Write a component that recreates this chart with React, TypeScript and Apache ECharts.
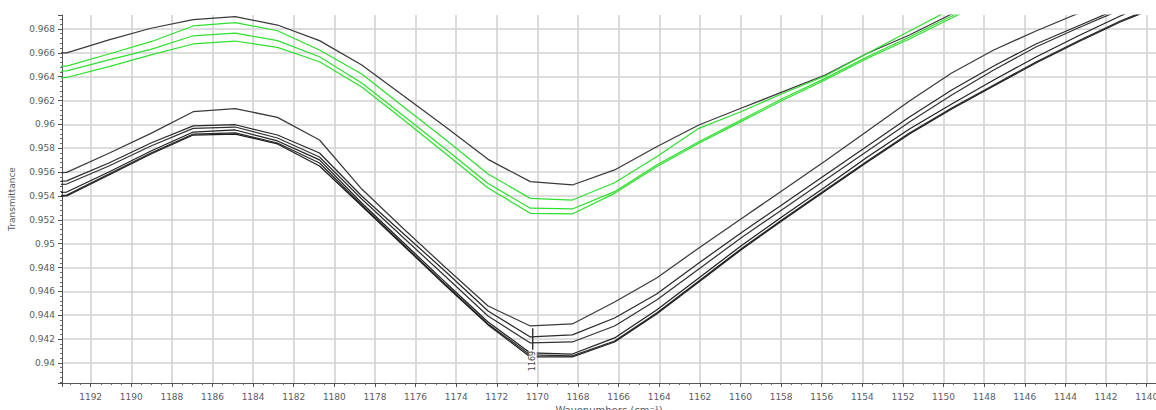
import React, { useEffect, useRef } from "react";
import * as echarts from "echarts";

// Wavenumber sample positions (cm^-1)
const wavenumbers = [
  1195.25, 1193.18, 1191.1, 1189.03, 1186.95, 1184.88, 1182.8, 1180.73, 1178.65, 1176.58,
  1174.5, 1172.43, 1170.35, 1168.28, 1166.2, 1164.13, 1162.05, 1159.98, 1157.9, 1155.83,
  1153.75, 1151.68, 1149.6, 1147.53, 1145.45, 1143.38, 1141.3, 1139.23,
];

// Upper group: one black spectrum and three green spectra
const upperBlack = [
  0.9659, 0.966, 0.96709, 0.96806, 0.96878, 0.96903, 0.96833, 0.96702, 0.96498, 0.96238,
  0.95976, 0.95707, 0.9552, 0.95492, 0.95618, 0.95813, 0.95995, 0.96135, 0.96274, 0.96414,
  0.96596, 0.96749, 0.96925, 0.9711,
];
const green1 = [
  0.96477, 0.96489, 0.9659, 0.96693, 0.96825, 0.96854, 0.96785, 0.96624, 0.96422, 0.96146,
  0.95869, 0.95584, 0.9538, 0.95366, 0.95511, 0.95729, 0.95967, 0.96106, 0.96261, 0.96406,
  0.96596, 0.96783, 0.96967, 0.97152,
];
const green2 = [
  0.96435, 0.96448, 0.9654, 0.96629, 0.96743, 0.96766, 0.96702, 0.96567, 0.96347, 0.9607,
  0.9579, 0.95505, 0.95297, 0.95291, 0.95436, 0.9566, 0.95855, 0.96037, 0.96219, 0.96386,
  0.96567, 0.96733, 0.96909, 0.97093,
];
const green3 = [
  0.9638, 0.96393, 0.96484, 0.96582, 0.96674, 0.96699, 0.96646, 0.96525, 0.96313, 0.96037,
  0.95752, 0.95467, 0.95255, 0.95249, 0.95422, 0.95645, 0.95842, 0.96023, 0.96204, 0.96372,
  0.96554, 0.96716, 0.96892, 0.97076,
];

// Lower group: six black spectra
const lower1 = [
  0.95584, 0.95598, 0.95758, 0.95925, 0.96106, 0.96132, 0.96059, 0.95869, 0.95458, 0.95123,
  0.94796, 0.94478, 0.9431, 0.94327, 0.94511, 0.94712, 0.94964, 0.95207, 0.9545, 0.95693,
  0.95945, 0.96196, 0.96431, 0.96624, 0.96783, 0.9693, 0.97068, 0.97194,
];
const lower2 = [
  0.95513, 0.95526, 0.95676, 0.95844, 0.95987, 0.95997, 0.95911, 0.9576, 0.954, 0.95081,
  0.94763, 0.94436, 0.94218, 0.94235, 0.94377, 0.94578, 0.94838, 0.9509, 0.95333, 0.95576,
  0.95819, 0.96062, 0.96288, 0.9649, 0.96674, 0.96825, 0.96976, 0.9711,
];
const lower3 = [
  0.95484, 0.955, 0.95651, 0.95819, 0.95966, 0.95978, 0.95886, 0.95727, 0.95375, 0.95048,
  0.94721, 0.94394, 0.94168, 0.94176, 0.9431, 0.94528, 0.94788, 0.95048, 0.95291, 0.95534,
  0.95777, 0.9602, 0.96246, 0.96456, 0.96649, 0.96808, 0.96959, 0.97093,
];
const lower4 = [
  0.95417, 0.95433, 0.95601, 0.95777, 0.95936, 0.95953, 0.95861, 0.95702, 0.95341, 0.95006,
  0.94671, 0.94344, 0.94084, 0.94075, 0.9421, 0.94444, 0.94712, 0.94981, 0.95232, 0.95475,
  0.95727, 0.95961, 0.96171, 0.96372, 0.96565, 0.96741, 0.96909, 0.97059,
];
const lower5 = [
  0.95391, 0.95408, 0.95584, 0.9576, 0.95919, 0.95928, 0.95844, 0.95676, 0.95324, 0.94989,
  0.94654, 0.94327, 0.94067, 0.94059, 0.94184, 0.94419, 0.94687, 0.94956, 0.95207, 0.9545,
  0.95693, 0.95928, 0.96137, 0.9633, 0.96523, 0.96699, 0.96867, 0.97009,
];
const lower6 = [
  0.95383, 0.954, 0.95576, 0.95752, 0.95911, 0.95919, 0.95836, 0.95651, 0.95316, 0.94981,
  0.94645, 0.94319, 0.9405, 0.9405, 0.94176, 0.94411, 0.94679, 0.94947, 0.95199, 0.95442,
  0.95685, 0.95919, 0.96129, 0.96322, 0.96515, 0.96691, 0.96858, 0.97001,
];

// Peak marker: [wavenumber, top of tick, bottom of tick]
const peakMarker = [[1170.23, 0.9429, 0.9411]];
const peakLabel = "1169";

const xRange = [1139.54, 1193.41];
const yRange = [0.93832, 0.96917];

const W = 1156;
const H = 410;

const pair = (vals: number[]) => vals.map((v, i) => [wavenumbers[i], v]);

const isStep = (v: number, step: number) => {
  const r = v / step;
  return Math.abs(r - Math.round(r)) < 1e-6;
};

export default function App() {
  const ref = useRef<HTMLDivElement>(null);
  useEffect(() => {
    if (!ref.current) return;
    const chart = echarts.init(ref.current, undefined, { renderer: "svg", width: W, height: H });
    const labelFont = { fontFamily: "DejaVu Sans", fontSize: 9, color: "#5a5a66" };
    const lineSeries = (name: string, vals: number[], color: string, width = 1.25) => ({
      name,
      type: "line",
      data: pair(vals),
      showSymbol: false,
      symbol: "none",
      lineStyle: { color, width },
      z: 3,
    });
    chart.setOption({
      animation: false,
      backgroundColor: "#ffffff",
      grid: {
        left: 62,
        right: 0,
        top: 15,
        bottom: 27,
        containLabel: false,
        outerBoundsMode: "none",
      },
      xAxis: {
        type: "value",
        inverse: true,
        min: xRange[0],
        max: xRange[1],
        splitNumber: 27,
        name: "Wavenumbers (cm⁻¹)",
        nameLocation: "middle",
        nameGap: 22,
        nameTextStyle: { ...labelFont, fontSize: 10 },
        axisLine: { show: true, onZero: false, lineStyle: { color: "#555", width: 1 } },
        axisTick: { show: true, length: 4, lineStyle: { color: "#555" } },
        minorTick: { show: true, splitNumber: 4, length: 2, lineStyle: { color: "#666" } },
        axisLabel: {
          ...labelFont,
          margin: 9,
          formatter: (v: number) => (isStep(v, 2) ? String(Math.round(v)) : ""),
        },
        splitLine: {
          show: true,
          showMinLine: false,
          showMaxLine: false,
          lineStyle: { color: "#d2d2d2", width: 1.6 },
        },
      },
      yAxis: {
        type: "value",
        min: yRange[0],
        max: yRange[1],
        splitNumber: 15,
        name: "Transmittance",
        nameLocation: "middle",
        nameRotate: 90,
        nameGap: 46,
        nameTextStyle: { ...labelFont, fontSize: 9 },
        axisLine: { show: true, onZero: false, lineStyle: { color: "#555", width: 1 } },
        axisTick: { show: true, length: 4, lineStyle: { color: "#555" } },
        minorTick: { show: true, splitNumber: 5, length: 2, lineStyle: { color: "#666" } },
        axisLabel: {
          ...labelFont,
          margin: 7,
          formatter: (v: number) => (isStep(v, 0.002) ? String(+v.toFixed(3)) : ""),
        },
        splitLine: {
          show: true,
          showMinLine: false,
          showMaxLine: false,
          lineStyle: { color: "#d2d2d2", width: 1.6 },
        },
      },
      series: [
        lineSeries("L1", lower1, "#3a3a3a"),
        lineSeries("L2", lower2, "#2a2a2a"),
        lineSeries("L3", lower3, "#333333"),
        lineSeries("L4", lower4, "#222222"),
        lineSeries("L5", lower5, "#2c2c2c"),
        lineSeries("L6", lower6, "#1e1e1e"),
        lineSeries("U0", upperBlack, "#3a3a3a"),
        lineSeries("G1", green1, "#2ee02e"),
        lineSeries("G2", green2, "#2ee02e"),
        lineSeries("G3", green3, "#2ee02e"),
        {
          type: "custom",
          data: peakMarker,
          z: 5,
          clip: false,
          renderItem: (_params: any, api: any) => {
            const top = api.coord([api.value(0), api.value(1)]);
            const bot = api.coord([api.value(0), api.value(2)]);
            return {
              type: "group",
              children: [
                {
                  type: "line",
                  shape: { x1: top[0], y1: top[1], x2: bot[0], y2: bot[1] },
                  style: { stroke: "#222", lineWidth: 1.3 },
                },
                {
                  type: "text",
                  x: bot[0],
                  y: bot[1] + 1,
                  rotation: Math.PI / 2,
                  z2: 10,
                  style: {
                    text: peakLabel,
                    fill: "#444",
                    font: "8px 'DejaVu Sans'",
                    align: "right",
                    verticalAlign: "middle",
                    backgroundColor: "#ffffff",
                  },
                },
              ],
            };
          },
        },
      ],
    });
    return () => chart.dispose();
  }, []);
  return (
    <div
      ref={ref}
      style={{ position: "fixed", left: 0, top: 0, width: W, height: H, background: "#fff" }}
    />
  );
}
